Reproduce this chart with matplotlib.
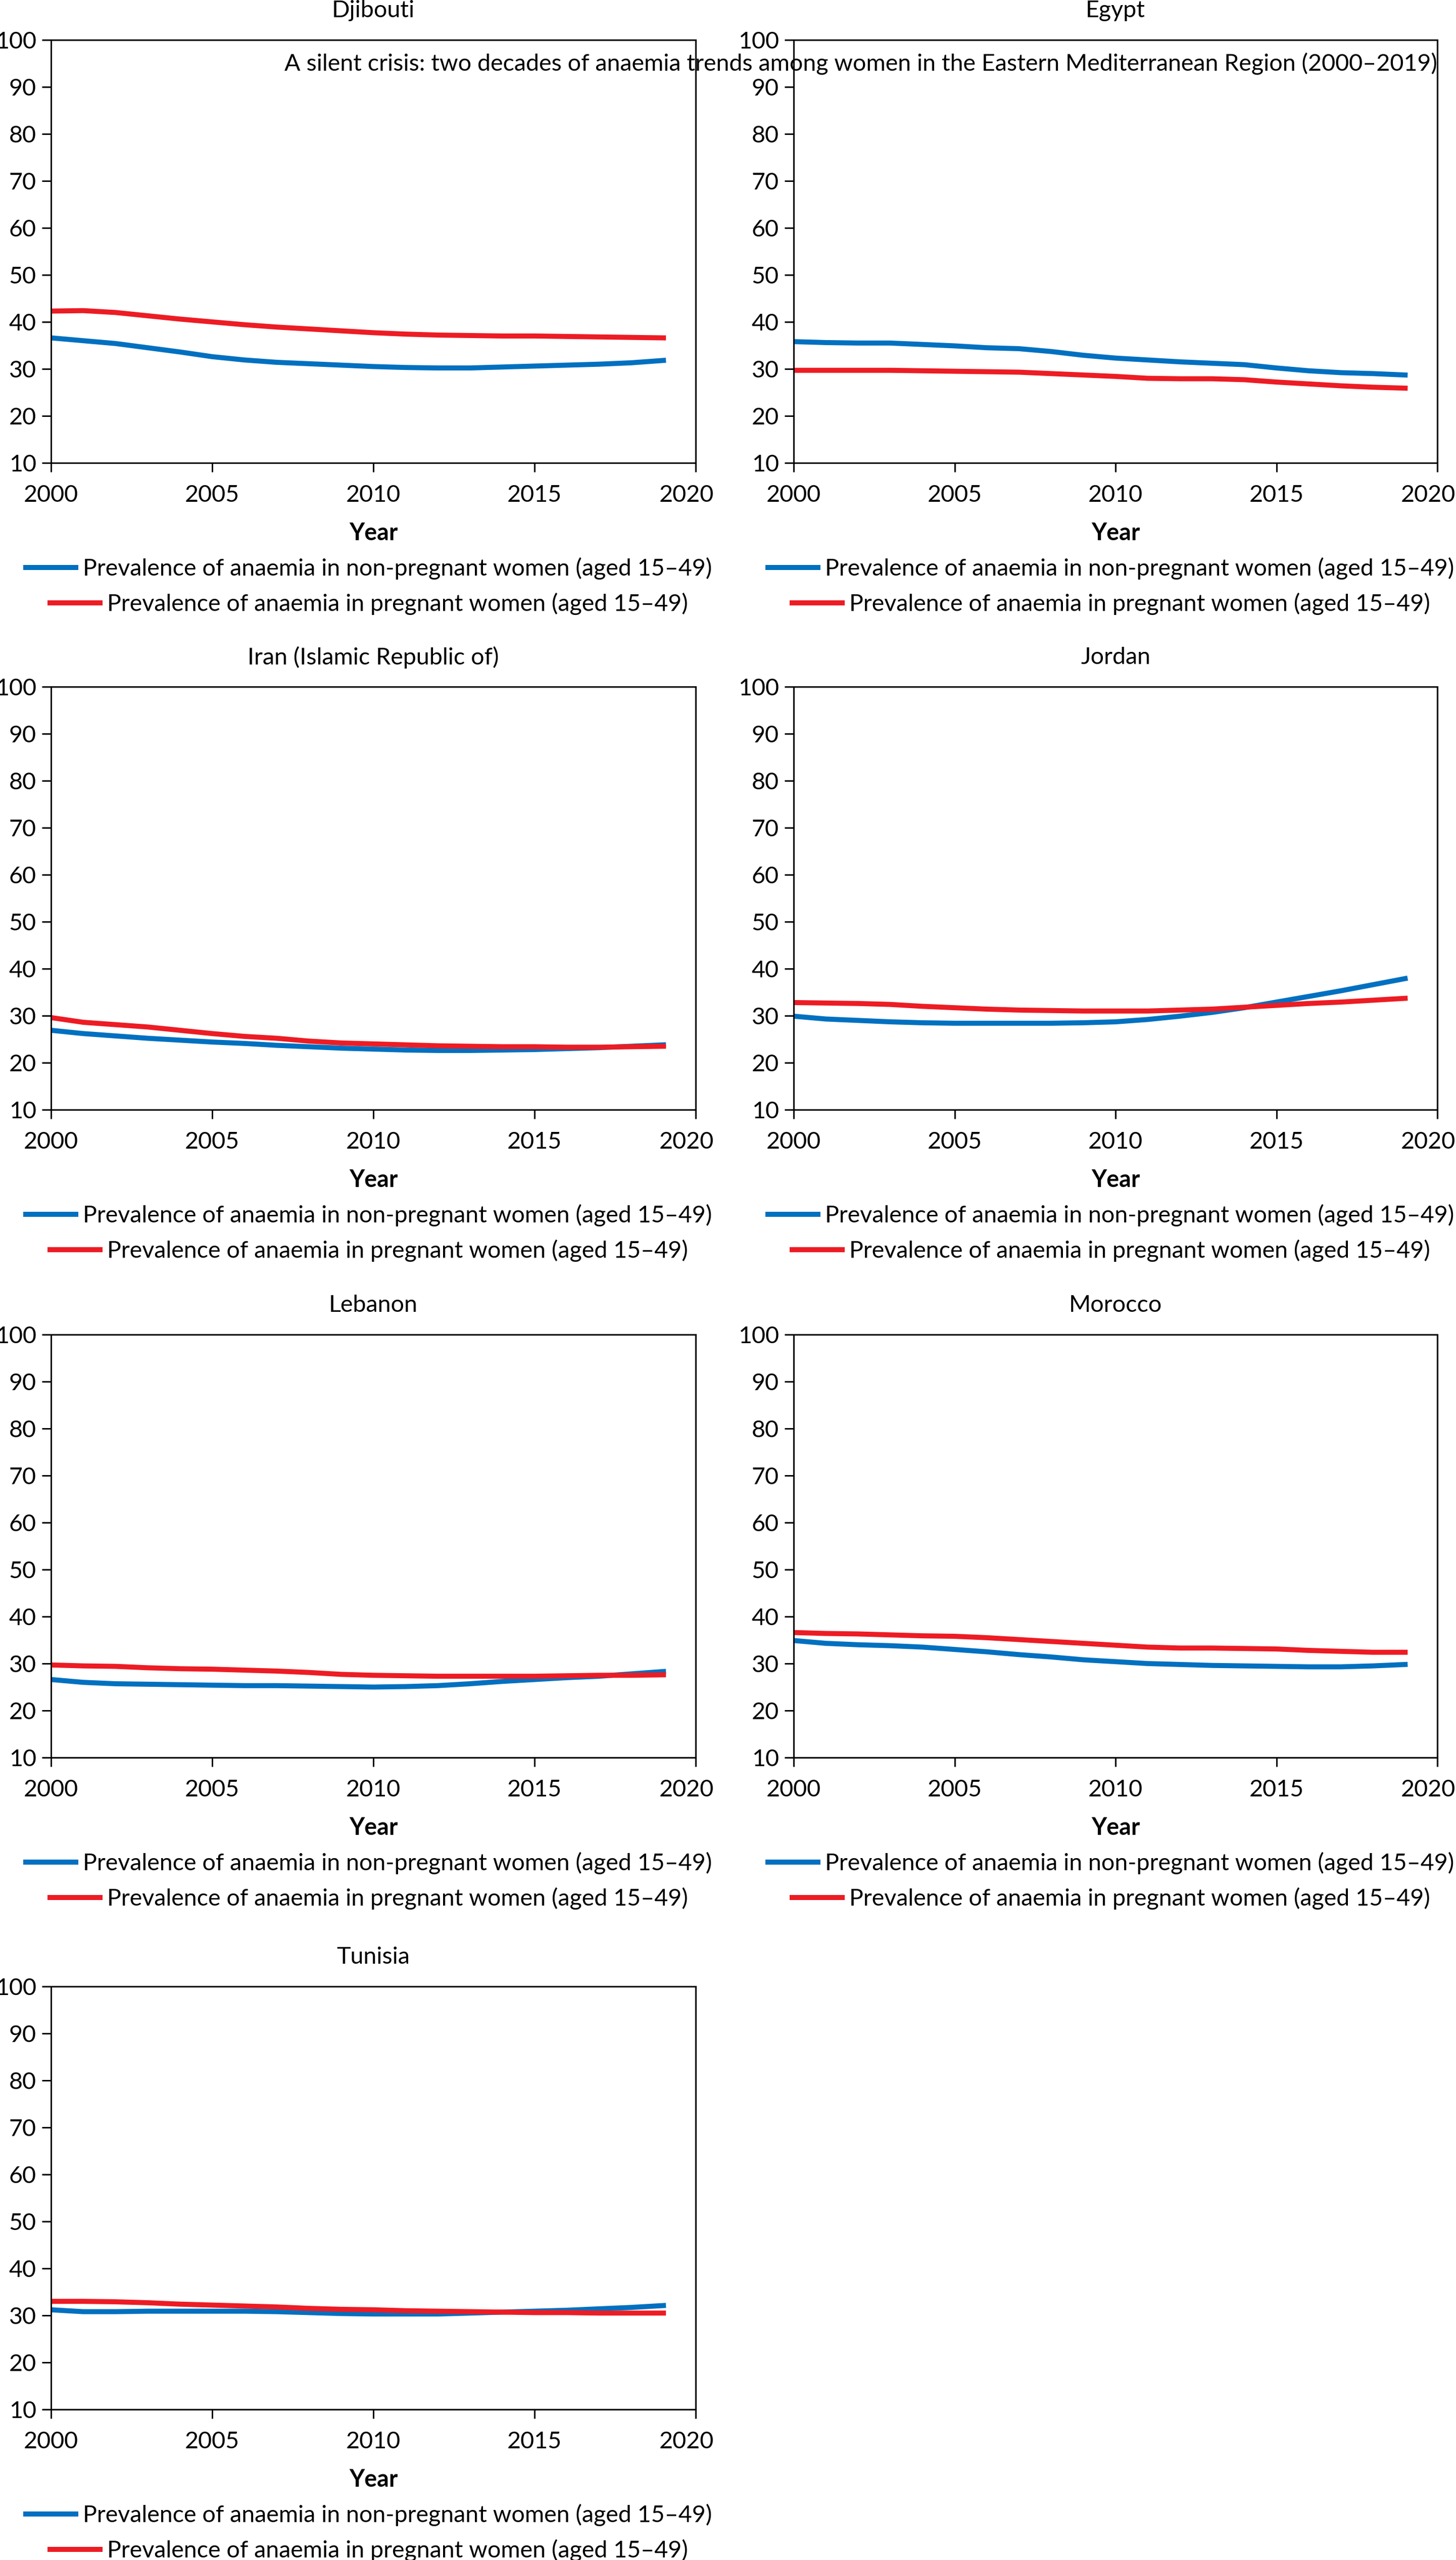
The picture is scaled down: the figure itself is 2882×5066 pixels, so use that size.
import numpy as np
import matplotlib.pyplot as plt
from matplotlib.lines import Line2D
from matplotlib.transforms import ScaledTranslation

plt.rcParams['font.family'] = ['Lato', 'DejaVu Sans']

years = list(range(2000, 2020))
countries = ["Djibouti", "Egypt", "Iran (Islamic Republic of)", "Jordan",
             "Lebanon", "Morocco", "Tunisia"]

# anaemia prevalence (%), non-pregnant / pregnant women aged 15-49
djibouti_nonpreg = [36.6, 36.0, 35.4, 34.5, 33.6, 32.6, 31.9, 31.4, 31.1, 30.8,
                    30.5, 30.3, 30.2, 30.2, 30.4, 30.6, 30.8, 31.0, 31.3, 31.8]
djibouti_preg = [42.3, 42.4, 42.0, 41.3, 40.6, 40.0, 39.4, 38.9, 38.5, 38.1,
                 37.7, 37.4, 37.2, 37.1, 37.0, 37.0, 36.9, 36.8, 36.7, 36.6]
egypt_nonpreg = [35.8, 35.6, 35.5, 35.5, 35.2, 34.9, 34.5, 34.3, 33.7, 32.9,
                 32.3, 31.9, 31.5, 31.2, 30.9, 30.2, 29.6, 29.2, 29.0, 28.7]
egypt_preg = [29.7, 29.7, 29.7, 29.7, 29.6, 29.5, 29.4, 29.3, 29.0, 28.7,
              28.4, 28.0, 27.9, 27.9, 27.7, 27.2, 26.8, 26.4, 26.1, 25.9]
iran_nonpreg = [26.9, 26.2, 25.7, 25.2, 24.8, 24.4, 24.1, 23.7, 23.4, 23.1,
                22.9, 22.7, 22.6, 22.6, 22.7, 22.8, 23.0, 23.2, 23.5, 23.8]
iran_preg = [29.6, 28.6, 28.1, 27.6, 26.9, 26.2, 25.6, 25.2, 24.6, 24.2,
             24.0, 23.8, 23.6, 23.5, 23.4, 23.4, 23.3, 23.3, 23.4, 23.5]
jordan_nonpreg = [29.9, 29.3, 29.0, 28.7, 28.5, 28.4, 28.4, 28.4, 28.4, 28.5,
                  28.7, 29.2, 29.9, 30.7, 31.7, 32.9, 34.1, 35.3, 36.6, 37.9]
jordan_preg = [32.8, 32.7, 32.6, 32.4, 32.0, 31.7, 31.4, 31.2, 31.1, 31.0,
               31.0, 31.0, 31.2, 31.4, 31.8, 32.2, 32.6, 32.9, 33.3, 33.7]
lebanon_nonpreg = [26.6, 26.0, 25.7, 25.6, 25.5, 25.4, 25.3, 25.3, 25.2, 25.1,
                   25.0, 25.1, 25.3, 25.7, 26.2, 26.6, 27.0, 27.3, 27.8, 28.3]
lebanon_preg = [29.7, 29.5, 29.4, 29.1, 28.9, 28.8, 28.6, 28.4, 28.1, 27.7,
                27.5, 27.4, 27.3, 27.3, 27.3, 27.3, 27.4, 27.5, 27.5, 27.6]
morocco_nonpreg = [34.9, 34.3, 34.0, 33.8, 33.5, 33.0, 32.5, 31.9, 31.4, 30.8,
                   30.4, 30.0, 29.8, 29.6, 29.5, 29.4, 29.3, 29.3, 29.5, 29.8]
morocco_preg = [36.6, 36.4, 36.3, 36.1, 35.9, 35.8, 35.5, 35.1, 34.7, 34.3,
                33.9, 33.5, 33.3, 33.3, 33.2, 33.1, 32.8, 32.6, 32.4, 32.4]
tunisia_nonpreg = [31.2, 30.8, 30.8, 30.9, 30.9, 30.9, 30.9, 30.8, 30.6, 30.4,
                   30.3, 30.3, 30.3, 30.5, 30.7, 30.9, 31.1, 31.4, 31.7, 32.1]
tunisia_preg = [33.0, 33.0, 32.9, 32.7, 32.4, 32.2, 32.0, 31.8, 31.5, 31.3,
                31.2, 31.0, 30.9, 30.8, 30.7, 30.6, 30.6, 30.5, 30.5, 30.5]

nonpreg = [djibouti_nonpreg, egypt_nonpreg, iran_nonpreg, jordan_nonpreg,
           lebanon_nonpreg, morocco_nonpreg, tunisia_nonpreg]
preg = [djibouti_preg, egypt_preg, iran_preg, jordan_preg,
        lebanon_preg, morocco_preg, tunisia_preg]

label_nonpreg = "Prevalence of anaemia in non-pregnant women (aged 15\u201349)"
label_preg = "Prevalence of anaemia in pregnant women (aged 15\u201349)"
suptitle = ("A silent crisis: two decades of anaemia trends among women in the "
            "Eastern Mediterranean Region (2000\u20132019)")

blue = "#0070C0"
red = "#ED1C24"

W, H = 2882, 5066
DPI = 200
px = 72 / DPI          # points per pixel
fs = 16.8
em = fs / px           # font size in pixels

fig = plt.figure(figsize=(W / DPI, H / DPI), dpi=DPI)

col_left = [101, 1571]
col_width = [1276, 1274]
row_top = [79, 1359, 2641, 3931]
ax_h = 837

for i, name in enumerate(countries):
    r, c = divmod(i, 2)
    ax = fig.add_axes([col_left[c] / W, 1 - (row_top[r] + ax_h) / H,
                       col_width[c] / W, ax_h / H])
    ax.plot(years, nonpreg[i], color=blue, lw=10 * px)
    ax.plot(years, preg[i], color=red, lw=10 * px)

    ax.set_xlim(2000, 2020)
    ax.set_ylim(10, 100)
    ax.set_xticks(range(2000, 2021, 5))
    ax.set_yticks(range(10, 101, 10))
    for s in ax.spines.values():
        s.set_linewidth(3 * px)
    ax.tick_params(direction='out', length=18 * px, width=3 * px,
                   labelsize=fs, top=False, right=False)
    ax.tick_params(axis='x', pad=9)
    ax.tick_params(axis='y', pad=4)

    # the last year label sits a little inside the right edge
    last = ax.xaxis.get_major_ticks()[-1].label1
    last.set_transform(last.get_transform()
                       + ScaledTranslation(-18 / DPI, 0, fig.dpi_scale_trans))

    ax.annotate(name, xy=(0.5, 1), xycoords='axes fraction',
                xytext=(0, 58 * px), textcoords='offset points',
                ha='center', va='center', fontsize=fs)
    ax.annotate("Year", xy=(0.5, 0), xycoords='axes fraction',
                xytext=(0, -139 * px), textcoords='offset points',
                ha='center', va='center', fontsize=fs, fontweight='bold')

    h1 = Line2D([0], [0], color=blue, lw=10 * px)
    h2 = Line2D([0], [0], color=red, lw=10 * px)
    leg1 = ax.legend([h1], [label_nonpreg], loc='center',
                     bbox_to_anchor=(0.493, -209 / ax_h), frameon=False,
                     fontsize=fs, handlelength=99 / em, handletextpad=14 / em,
                     borderpad=0, borderaxespad=0)
    ax.add_artist(leg1)
    ax.legend([h2], [label_preg], loc='center',
              bbox_to_anchor=(0.493, -279 / ax_h), frameon=False,
              fontsize=fs, handlelength=99 / em, handletextpad=14 / em,
              borderpad=0, borderaxespad=0)

fig.text(2845 / W, 1 - 126 / H, suptitle, ha='right', va='center', fontsize=fs)

fig.savefig("out.png", dpi=DPI)
